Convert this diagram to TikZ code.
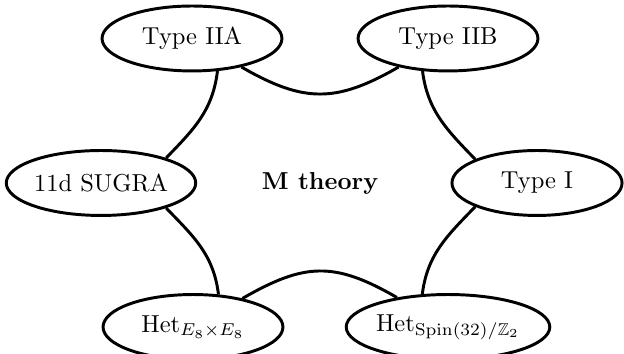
\documentclass[tikz,border=0pt]{standalone}
\usepackage{amssymb}
\usepackage{amsmath}
\usetikzlibrary{shapes.geometric}

\begin{document}
\begin{tikzpicture}[x=0.408pt,y=0.408pt,
    theory/.style={draw,ellipse,very thick,inner sep=0pt,minimum width=73.4pt,minimum height=26.5pt},
    link/.style={very thick}]
    \useasboundingbox (0,0) rectangle (624,354);

    % Centro
    \node[font=\bfseries] (M) at (320,171) {M theory};

    % Teorie
    \node[theory] (IIA) at (192,315.5) {Type IIA};
    \node[theory] (IIB) at (448,315.5) {Type IIB};
    \node[theory] (SUGRA) at (101,171) {11d SUGRA};
    \node[theory,minimum width=69.4pt] (I) at (537,171) {Type I};
    \node[theory] (HetE) at (193,27) {Het$_{E_8\times E_8}$};
    \node[theory] (HetS) at (448,27) {Het$_{\mathrm{Spin}(32)/\mathbb{Z}_2}$};

    % Collegamenti
    \draw[link] (IIA.-30) .. controls +(-30:72) and +(-150:72) .. (IIB.-150);
    \draw[link] (IIA.-52) .. controls +(-97:40) and +(46:40) .. (SUGRA.21);
    \draw[link] (SUGRA.-21) .. controls +(-46:40) and +(97:40) .. (HetE.52);
    \draw[link] (HetE.30) .. controls +(30:72) and +(150:72) .. (HetS.150);
    \draw[link] (IIB.-128) .. controls +(-83:40) and +(134:40) .. (I.159);
    \draw[link] (I.-159) .. controls +(-134:40) and +(83:40) .. (HetS.128);
\end{tikzpicture}
\end{document}
